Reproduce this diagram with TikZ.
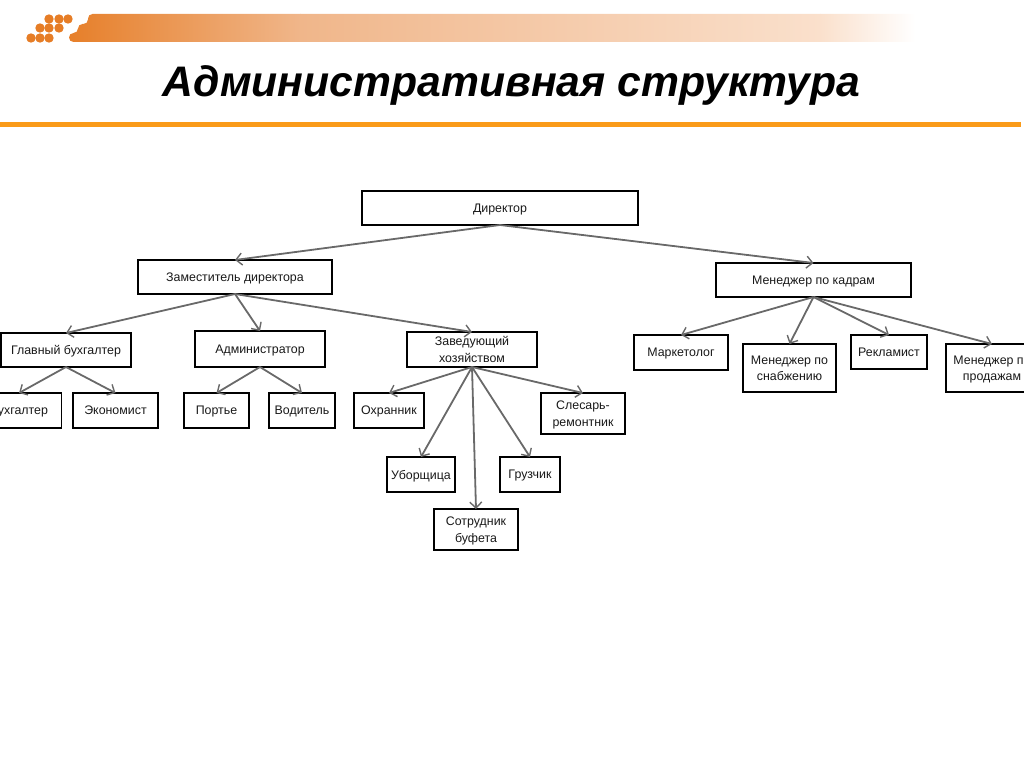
\documentclass[tikz,border=0pt]{standalone}
\usepackage{fontspec}
\setmainfont{Liberation Sans}
\usetikzlibrary{arrows.meta}
\definecolor{barorange}{RGB}{230,125,38}
\definecolor{barmid}{RGB}{240,182,138}
\definecolor{barpale}{RGB}{250,224,204}
\definecolor{ruleorange}{RGB}{250,155,25}
\definecolor{linkgray}{RGB}{105,105,105}
\tikzset{
  orgbox/.style={draw=black,line width=1.3pt,fill=white,inner sep=0pt,outer sep=0pt,align=center,text=black!90,text depth=-2pt,font=\fontsize{12.4}{16.5}\selectfont},
  link/.style={draw=linkgray,line width=1.8pt,-{Straight Barb[length=6pt,width=12pt,line width=1.4pt]}},
  dot/.style={circle,fill=barorange,inner sep=0pt,minimum size=9.4pt,outer sep=0pt}
}
\begin{document}
\begin{tikzpicture}[x=1pt,y=-1pt]
\useasboundingbox (0,0) rectangle (1024,767);
\clip (0,0) rectangle (1024,767);
% banner
\begin{scope}
\clip[rounded corners=4.5pt] (88,14) -- (1000,14) -- (1000,42) -- (69,42) -- (69,33) -- (78,33) -- (78,24) -- (88,24) -- cycle;
\shade[left color=barorange,right color=barmid] (60,14) rectangle (300.5,42);
\shade[left color=barmid,right color=barpale] (300,14) rectangle (820.5,42);
\shade[left color=barpale,right color=white] (820,14) rectangle (915,42);
\end{scope}
\foreach \px/\py/\nm in {49/19/a,59/19/b,68/19/c,40/28/d,49/28/e,59/28/f,31/38/g,40/38/h,49/38/i}
  \node[dot] (dot\nm) at (\px,\py) {};
% title
\node[font=\fontsize{42.7}{46}\selectfont\bfseries\itshape,text=black,anchor=base] (title) at (511.5,96.5) {Административная структура};
\fill[ruleorange] (0,122) rectangle (1021,127);
% boxes
\node[orgbox,minimum width=276pt,minimum height=34pt] (dir) at (500,208) {Директор};
\node[orgbox,minimum width=194pt,minimum height=34pt] (zam) at (235,277) {Заместитель директора};
\node[orgbox,minimum width=195pt,minimum height=34pt] (kad) at (813.5,280) {Менеджер по кадрам};
\node[orgbox,minimum width=130pt,minimum height=34pt] (glb) at (66,350) {Главный бухгалтер};
\node[orgbox,minimum width=130pt,minimum height=36pt] (adm) at (260,349) {Администратор};
\node[orgbox,minimum width=130pt,minimum height=35pt] (zav) at (472,349.5) {Заведующий\\хозяйством};
\node[orgbox,minimum width=85pt,minimum height=35pt] (buh) at (19,410.5) {Бухгалтер};
\node[orgbox,minimum width=85pt,minimum height=35pt] (eko) at (115.5,410.5) {Экономист};
\node[orgbox,minimum width=65pt,minimum height=35pt] (por) at (216.5,410.5) {Портье};
\node[orgbox,minimum width=66pt,minimum height=35pt] (vod) at (302,410.5) {Водитель};
\node[orgbox,minimum width=70pt,minimum height=35pt] (ohr) at (389,410.5) {Охранник};
\node[orgbox,minimum width=84pt,minimum height=41pt] (sle) at (583,413.5) {Слесарь-\\ремонтник};
\node[orgbox,minimum width=68pt,minimum height=35pt] (ubo) at (421,474.5) {Уборщица};
\node[orgbox,minimum width=60pt,minimum height=35pt] (gru) at (530,474.5) {Грузчик};
\node[orgbox,minimum width=84pt,minimum height=41pt] (sot) at (476,529.5) {Сотрудник\\буфета};
\node[orgbox,minimum width=94pt,minimum height=35pt] (mar) at (681,352.5) {Маркетолог};
\node[orgbox,minimum width=93pt,minimum height=48pt] (sna) at (789.5,368) {Менеджер по\\снабжению};
\node[orgbox,minimum width=76pt,minimum height=34pt] (rek) at (889,352) {Рекламист};
\node[orgbox,minimum width=92pt,minimum height=48pt] (pro) at (992,368) {Менеджер по\\продажам};
% connectors
\draw[link] (dir.south) -- (zam.north);
\draw[link] (dir.south) -- (kad.north);
\draw[link] (zam.south) -- (glb.north);
\draw[link] (zam.south) -- (adm.north);
\draw[link] (zam.south) -- (zav.north);
\draw[link] (glb.south) -- (buh.north);
\draw[link] (glb.south) -- (eko.north);
\draw[link] (adm.south) -- (por.north);
\draw[link] (adm.south) -- (vod.north);
\draw[link] (zav.south) -- (ohr.north);
\draw[link] (zav.south) -- (ubo.north);
\draw[link] (zav.south) -- (sot.north);
\draw[link] (zav.south) -- (gru.north);
\draw[link] (zav.south) -- (sle.north);
\draw[link] (kad.south) -- (mar.north);
\draw[link] (kad.south) -- (sna.north);
\draw[link] (kad.south) -- (rek.north);
\draw[link] (kad.south) -- (pro.north);
\end{tikzpicture}
\end{document}
